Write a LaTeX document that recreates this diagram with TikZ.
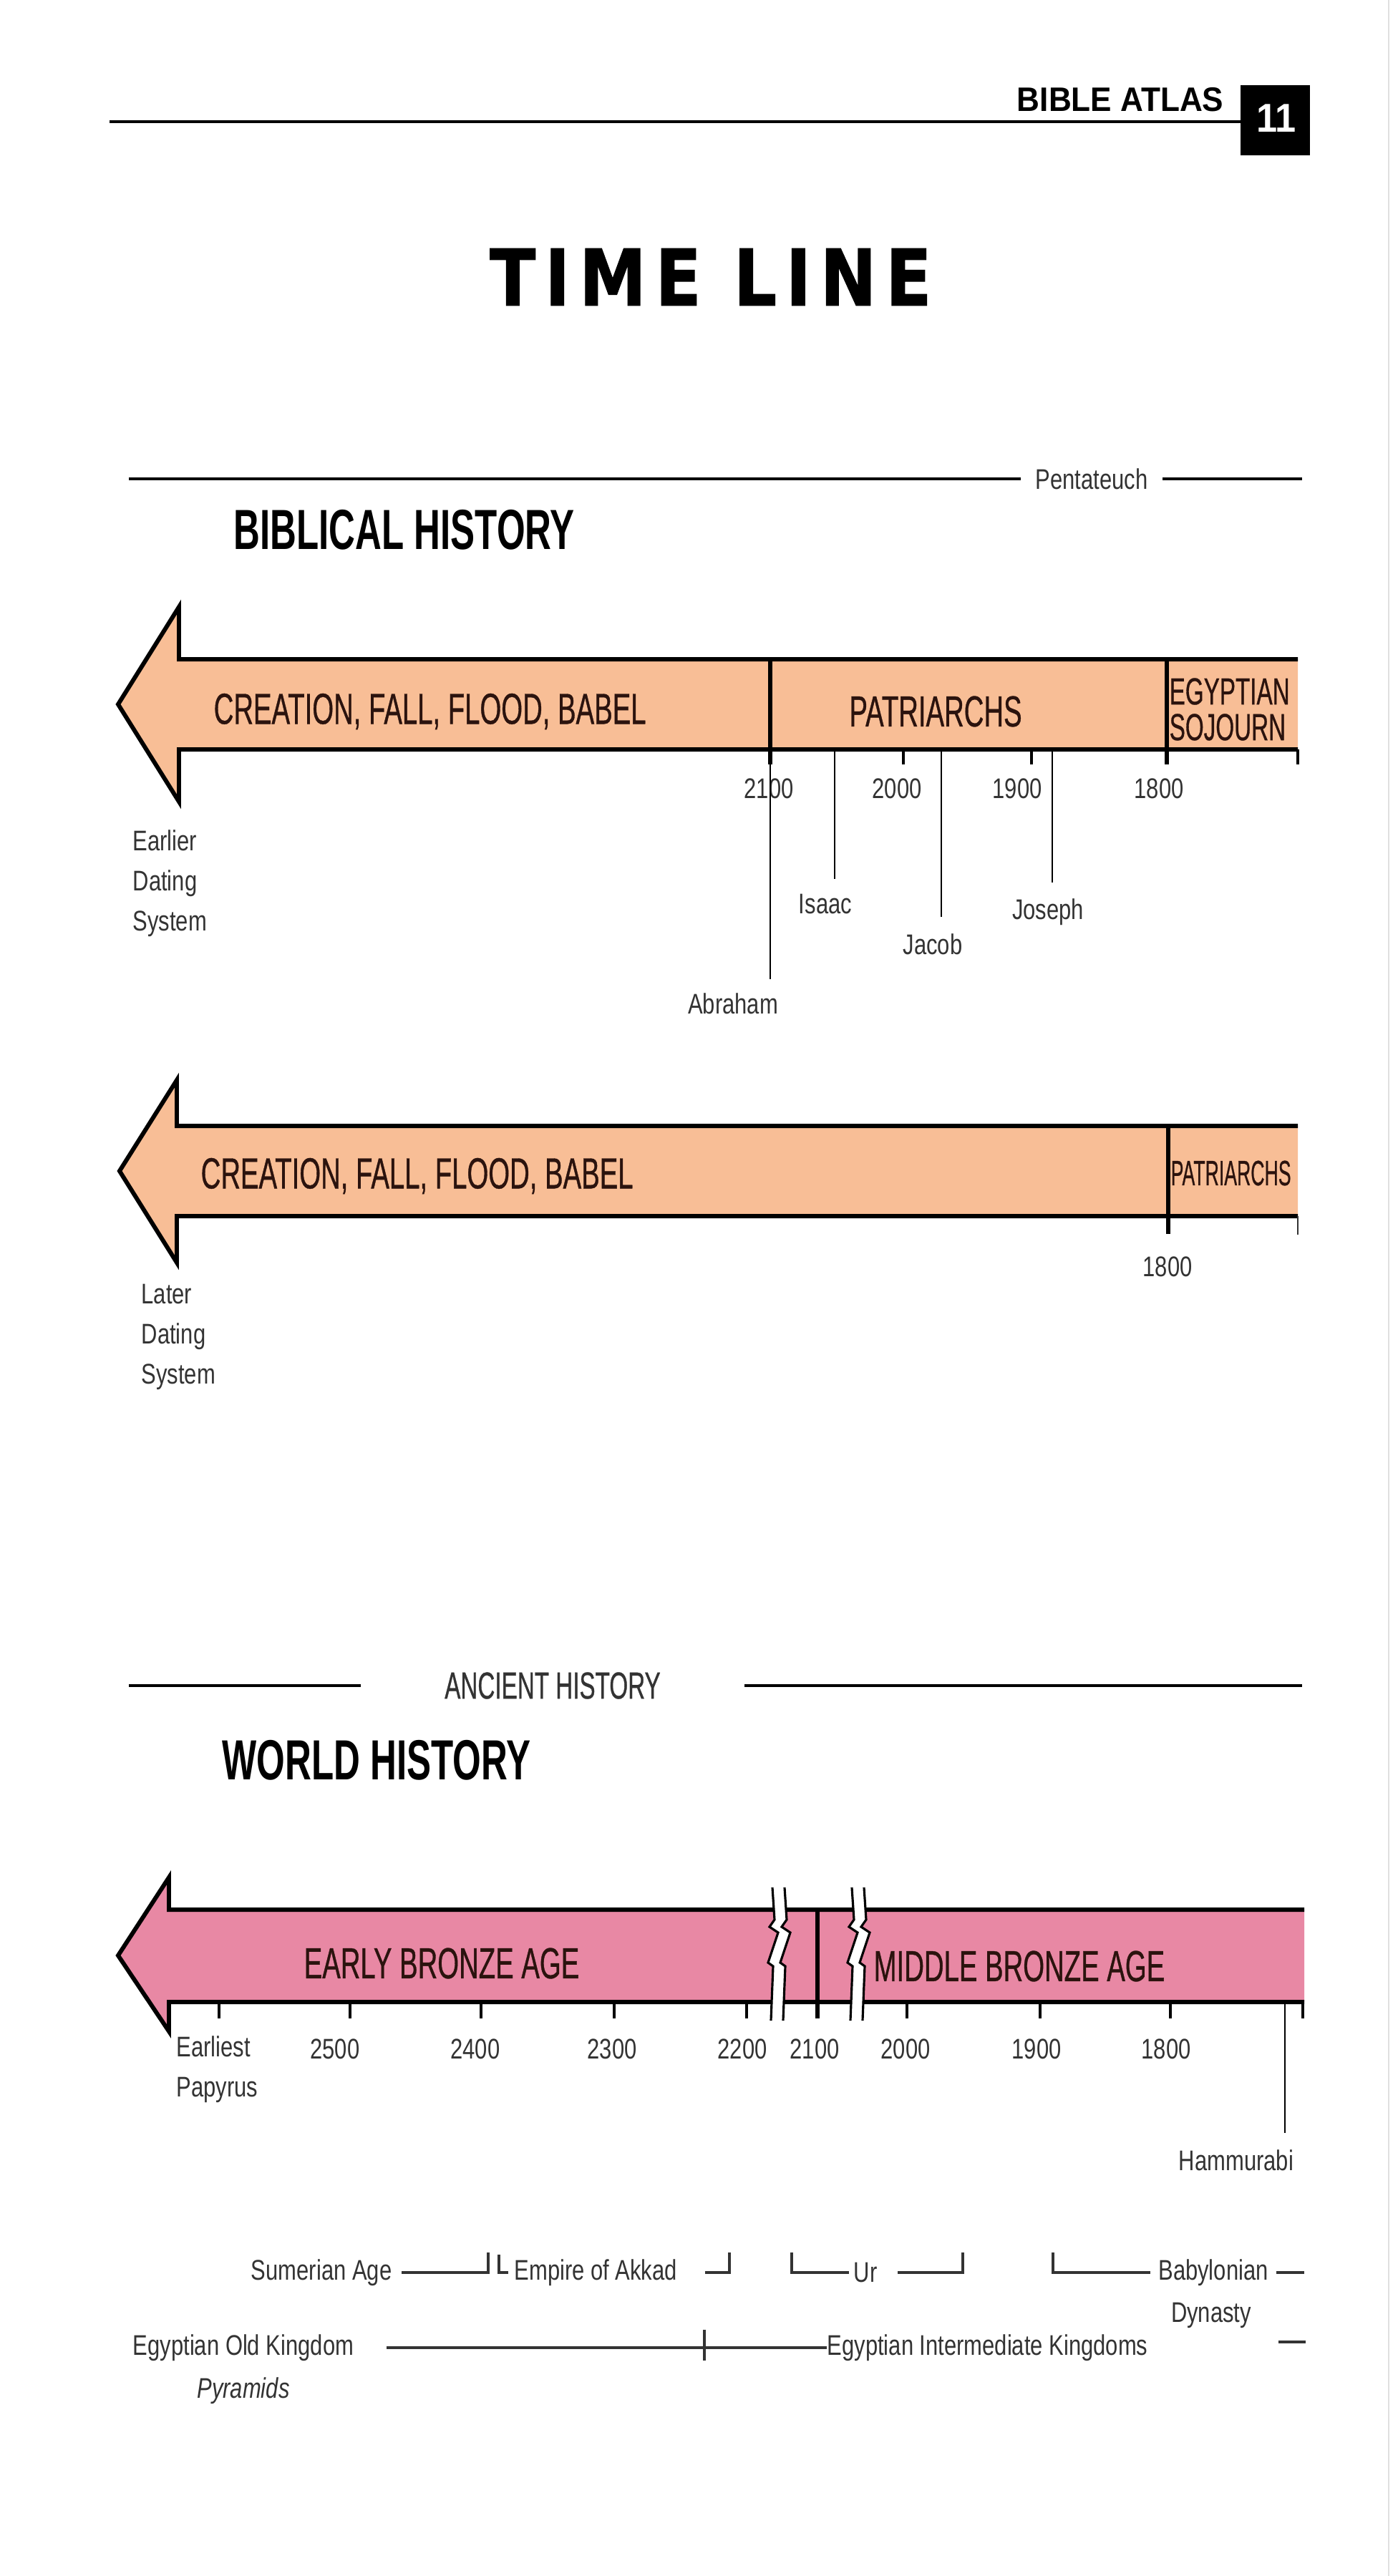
\documentclass[tikz,border=0pt]{standalone}
\usepackage{fontspec}
\usepackage{graphicx}
\setmainfont{Liberation Sans}
\newfontfamily\lblfont[FakeStretch=0.78]{Liberation Sans}
\newfontfamily\bandfont[FakeStretch=0.63,FakeBold=0.6]{Liberation Sans}
\newfontfamily\headingfont[FakeStretch=0.645]{Liberation Sans}
\newfontfamily\atlasfont[FakeStretch=0.93]{Liberation Sans}
\newfontfamily\timelinefont[FakeStretch=0.86,LetterSpace=12,FakeBold=1.2]{DejaVu Sans}
\usetikzlibrary{positioning}
\definecolor{peach}{HTML}{F8BE96}
\definecolor{rose}{HTML}{E888A4}
\definecolor{ink}{HTML}{2B130E}
\definecolor{labelgray}{HTML}{333333}

\tikzset{timebreak/.pic={
    \fill[white] (0,0.31) -- (0.03,-0.14) -- (-0.04,-0.24) -- (0.08,-0.32) -- (-0.06,-0.74) -- (0.01,-0.79) -- (-0.02,-1.55)
      -- (0.15,-1.55) -- (0.18,-0.79) -- (0.11,-0.74) -- (0.25,-0.32) -- (0.13,-0.24) -- (0.20,-0.14) -- (0.17,0.31) -- cycle;
    \draw[line width=0.9pt] (0,0.31) -- (0.03,-0.14) -- (-0.04,-0.24) -- (0.08,-0.32) -- (-0.06,-0.74) -- (0.01,-0.79) -- (-0.02,-1.55);
    \draw[line width=0.9pt] (0.17,0.31) -- (0.20,-0.14) -- (0.13,-0.24) -- (0.25,-0.32) -- (0.11,-0.74) -- (0.18,-0.79) -- (0.15,-1.55);
}}

\begin{document}
\begin{tikzpicture}[
    band/.style={line width=1.7pt, line join=miter},
    bandtext/.style={font=\bandfont\fontsize{17.3}{19}\selectfont, text=ink, inner sep=0pt},
    lbl/.style={font=\lblfont\fontsize{11.3}{16}\selectfont, text=labelgray, inner sep=0pt},
    heading/.style={font=\headingfont\bfseries\fontsize{22.5}{26}\selectfont, inner sep=0pt},
    tickmark/.style={line width=1.3pt},
    hairline/.style={line width=0.5pt},
    rule/.style={line width=1.4pt},
    bracket/.style={line width=0.9pt, labelgray}
  ]
    \useasboundingbox (0,0) rectangle (19.46,-35.99);
    \draw[black!12, line width=0.6pt] (19.40,0) -- (19.40,-35.99);

    % Running head
    \draw[rule] (1.53,-1.70) -- (17.33,-1.70);
    \fill (17.33,-1.19) rectangle (18.30,-2.17);
    \node[font=\atlasfont\bfseries\fontsize{13.5}{15}\selectfont, anchor=east, inner sep=0pt] (atlas) at (17.10,-1.39) {BIBLE ATLAS};
    \node[font=\atlasfont\bfseries\fontsize{16}{18}\selectfont, text=white, inner sep=0pt] (page) at (17.83,-1.65) {11};
    \node[font=\timelinefont\bfseries\fontsize{31}{34}\selectfont, inner sep=0pt] (title) at (9.93,-3.87) {TIME LINE};

    % Biblical history
    \node[lbl, inner xsep=0.2cm] (pent) at (15.25,-6.69) {Pentateuch};
    \draw[rule] (1.80,-6.69) -- (pent.west);
    \draw[rule] (pent.east) -- (18.19,-6.69);
    \node[heading, anchor=west] (biblical) at (3.26,-7.40) {BIBLICAL HISTORY};

    % Earlier dating arrow
    \filldraw[band, fill=peach] (18.13,-9.21) -- (2.50,-9.21) -- (2.50,-8.48) -- (1.65,-9.84) -- (2.50,-11.20) -- (2.50,-10.47) -- (18.13,-10.47);
    \draw[band] (10.76,-9.21) -- (10.76,-10.68);
    \draw[band] (16.30,-9.21) -- (16.30,-10.68);
    \foreach \x in {12.62,14.41,18.13}
        \draw[tickmark] (\x,-10.47) -- (\x,-10.68);
    \foreach \yr/\x in {2100/10.74,2000/12.53,1900/14.21,1800/16.19}
        \node[lbl] (early\yr) at (\x,-11.02) {\yr};
    \node[bandtext, anchor=west] (creation1) at (2.98,-9.94) {CREATION, FALL, FLOOD, BABEL};
    \node[bandtext] (patriarchs1) at (13.07,-9.94) {PATRIARCHS};
    \node[bandtext, anchor=west, align=left, font=\bandfont\fontsize{15}{14.2}\selectfont] (sojourn) at (16.33,-9.91) {EGYPTIAN\\SOJOURN};

    % Patriarchs
    \node[lbl] (abraham) at (10.24,-14.02) {Abraham};
    \node[lbl] (isaac) at (11.53,-12.63) {Isaac};
    \node[lbl] (jacob) at (13.03,-13.19) {Jacob};
    \node[lbl] (joseph) at (14.64,-12.74) {Joseph};
    \draw[hairline] (10.76,-10.68) -- (10.76,-13.68);
    \foreach \x/\len in {11.66/1.81,13.15/2.34,14.70/1.86}
        \draw[hairline] (\x,-10.47) -- ++(0,-\len);
    \node[lbl, anchor=west, align=left] (earlier) at (1.85,-12.34) {Earlier\\Dating\\System};

    % Later dating arrow
    \filldraw[band, fill=peach] (18.13,-15.73) -- (2.47,-15.73) -- (2.47,-15.09) -- (1.67,-16.36) -- (2.47,-17.64) -- (2.47,-16.99) -- (18.13,-16.99);
    \draw[band] (16.32,-15.73) -- (16.32,-17.24);
    \draw[hairline, labelgray] (18.13,-16.99) -- (18.13,-17.25);
    \node[bandtext, anchor=west] (creation2) at (2.80,-16.43) {CREATION, FALL, FLOOD, BABEL};
    \node[bandtext, anchor=west, font=\bandfont\fontsize{14}{16}\selectfont] (patriarchs2) at (16.35,-16.39) {\scalebox{0.86}[1]{PATRIARCHS}};
    \node[lbl] (late1800) at (16.31,-17.70) {1800};
    \node[lbl, anchor=west, align=left] (later) at (1.97,-18.68) {Later\\Dating\\System};

    % World history
    \node[font=\bandfont\fontsize{15}{17}\selectfont, text=labelgray, inner ysep=0pt, inner xsep=1.17cm] (ancient) at (7.72,-23.55) {ANCIENT HISTORY};
    \draw[rule] (1.80,-23.55) -- (ancient.west);
    \draw[rule] (ancient.east) -- (18.19,-23.55);
    \node[heading, anchor=west] (world) at (3.10,-24.59) {WORLD HISTORY};

    % Bronze age arrow
    \filldraw[band, fill=rose] (18.22,-26.68) -- (2.36,-26.68) -- (2.36,-26.23) -- (1.65,-27.32) -- (2.36,-28.38) -- (2.36,-27.97) -- (18.22,-27.97);
    \draw[band] (11.42,-26.68) -- (11.42,-28.20);
    \foreach \x in {3.06,4.89,6.72,8.58,10.43,12.67,14.53,16.35,18.20}
        \draw[tickmark] (\x,-27.97) -- (\x,-28.20);
    \pic at (10.79,-26.68) {timebreak};
    \pic at (11.90,-26.68) {timebreak};
    \node[bandtext, anchor=west] (eba) at (4.24,-27.43) {EARLY BRONZE AGE};
    \node[bandtext, anchor=west] (mba) at (12.20,-27.47) {MIDDLE BRONZE AGE};
    \foreach \yr/\x in {2500/4.68,2400/6.64,2300/8.55,2200/10.37,2100/11.38,2000/12.65,1900/14.48,1800/16.29}
        \node[lbl] (w\yr) at (\x,-28.63) {\yr};
    \node[lbl, anchor=west, align=left] (papyrus) at (2.46,-28.91) {Earliest\\Papyrus};
    \node[lbl] (hammurabi) at (17.27,-30.18) {Hammurabi};
    \draw[hairline] (17.95,-27.97) -- (17.95,-29.80);

    % Kingdoms and ages
    \node[lbl, anchor=east] (sumer) at (5.48,-31.75) {Sumerian Age};
    \node[lbl, anchor=west] (akkad) at (7.18,-31.75) {Empire of Akkad};
    \node[lbl, anchor=west] (ur) at (11.92,-31.75) {Ur};
    \node[lbl] (baby) at (16.95,-31.75) {Babylonian};
    \node[lbl] (dynasty) at (16.92,-32.35) {Dynasty};
    \draw[bracket] (sumer.east) ++(0.13,0) -- (6.82,-31.75) -- ++(0,0.28);
    \draw[bracket] (akkad.west) ++(-0.08,0) -- (6.97,-31.75) -- ++(0,0.25);
    \draw[bracket] (akkad.east) ++(0.38,0) -- (10.19,-31.75) -- ++(0,0.28);
    \draw[bracket] (ur.west) ++(-0.06,0) -- (11.06,-31.75) -- ++(0,0.28);
    \draw[bracket] (ur.east) ++(0.28,0) -- (13.45,-31.75) -- ++(0,0.28);
    \draw[bracket] (baby.west) ++(-0.11,0) -- (14.71,-31.75) -- ++(0,0.28);
    \draw[bracket] (baby.east) ++(0.11,0) -- (18.22,-31.75);

    \node[lbl] (oldkingdom) at (3.40,-32.80) {Egyptian Old Kingdom};
    \node[lbl, font=\lblfont\itshape\fontsize{11.3}{16}\selectfont] (pyramids) at (3.40,-33.40) {Pyramids};
    \node[lbl, anchor=west] (intermediate) at (11.55,-32.80) {Egyptian Intermediate Kingdoms};
    \draw[bracket] (oldkingdom.east) ++(0.45,0) -- (intermediate.west);
    \draw[bracket] (9.84,-32.55) -- (9.84,-32.98);
    \draw[bracket] (17.86,-32.72) -- (18.24,-32.72);
\end{tikzpicture}
\end{document}
